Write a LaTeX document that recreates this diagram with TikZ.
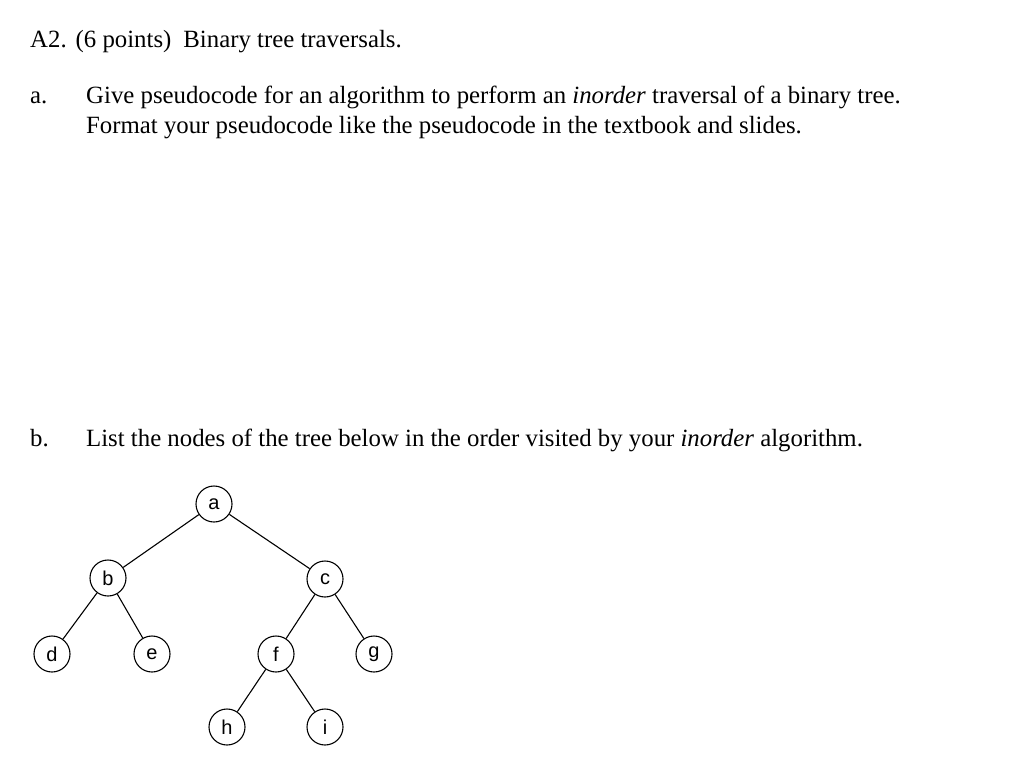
\documentclass[tikz,border=0pt]{standalone}
\usepackage{fontspec}
\setmainfont{Liberation Serif}
\newfontfamily\arialf{Liberation Sans}
\begin{document}
\begin{tikzpicture}[x=1pt,y=-1pt,
  txt/.style={anchor=base west,inner sep=0pt,font=\fontsize{24.8}{28}\selectfont},
  tn/.style={circle,draw,line width=1.1pt,minimum size=36pt,inner sep=0pt,font=\arialf\fontsize{20}{22}\selectfont},
  edge/.style={line width=1.1pt}]
\useasboundingbox (0,0) rectangle (1024,774);
\node[txt] (t1) at (30,47) {A2.\hspace{9pt}(6 points)\hspace{12pt}Binary tree traversals.};
\node[txt] (t2) at (30,103) {a.};
\node[txt] (t3) at (86,103) {Give pseudocode for an algorithm to perform an \textit{inorder} traversal of a binary tree.};
\node[txt] (t4) at (86,133) {Format your pseudocode like the pseudocode in the textbook and slides.};
\node[txt] (t5) at (30,446) {b.};
\node[txt] (t6) at (86,446) {List the nodes of the tree below in the order visited by your \textit{inorder} algorithm.};
\node[tn] (a) at (214,504) {a};
\node[tn] (b) at (108,578) {b};
\node[tn] (c) at (325,579) {c};
\node[tn] (d) at (52,654) {d};
\node[tn] (e) at (152,654) {e};
\node[tn] (f) at (276,654) {f};
\node[tn] (g) at (374,654) {g};
\node[tn] (h) at (227,727) {h};
\node[tn] (i) at (325,727) {i};
\draw[edge] (a)--(b) (a)--(c) (b)--(d) (b)--(e) (c)--(f) (c)--(g) (f)--(h) (f)--(i);
\end{tikzpicture}
\end{document}
